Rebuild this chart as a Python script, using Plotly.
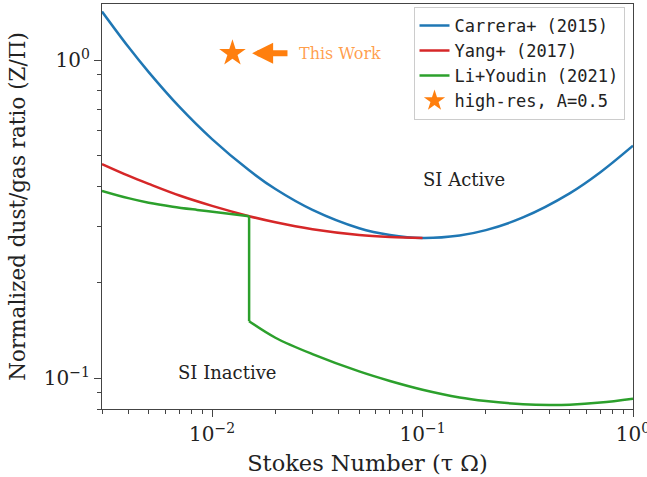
import numpy as np
import plotly.graph_objects as go

# Critical normalized dust-to-gas ratio vs Stokes number
tau_carrera = [0.003, 0.004, 0.005, 0.007, 0.01, 0.015, 0.02, 0.03, 0.05, 0.07,
               0.1, 0.15, 0.2, 0.3, 0.5, 0.7, 1.0]
z_carrera = [1.42, 1.10, 0.916, 0.712, 0.564, 0.450, 0.393, 0.338, 0.296, 0.282,
             0.276, 0.281, 0.292, 0.320, 0.381, 0.444, 0.538]

tau_yang = [0.003, 0.004, 0.005, 0.007, 0.01, 0.015, 0.02, 0.03, 0.05, 0.07, 0.1]
z_yang = [0.471, 0.433, 0.408, 0.375, 0.348, 0.323, 0.309, 0.294, 0.282, 0.278, 0.276]

# Li & Youdin (2021): two branches joined by a jump at tau = 0.015
tau_li_low = [0.003, 0.004, 0.005, 0.0065, 0.0085, 0.011, 0.015]
z_li_low = [0.388, 0.368, 0.356, 0.346, 0.338, 0.331, 0.323]
tau_li_jump = [0.015, 0.015]
z_li_jump = [0.323, 0.151]
tau_li_high = [0.015, 0.02, 0.03, 0.05, 0.07, 0.1, 0.15, 0.2, 0.3, 0.4, 0.5, 0.7, 1.0]
z_li_high = [0.151, 0.134, 0.119, 0.105, 0.098, 0.092, 0.087, 0.0848, 0.0828,
             0.0823, 0.0825, 0.0838, 0.0862]

tau_run = [0.0125]
z_run = [1.05]

BLUE, RED, GREEN, ORANGE = "#1f77b4", "#d62728", "#2ca02c", "#ff7f0e"
SERIF = "DejaVu Serif"
LW = 2.5

fig = go.Figure()
fig.add_trace(go.Scatter(x=tau_carrera, y=z_carrera, mode="lines", name="Carrera+ (2015)",
                         line=dict(color=BLUE, width=LW, shape="spline")))
fig.add_trace(go.Scatter(x=tau_yang, y=z_yang, mode="lines", name="Yang+ (2017)",
                         line=dict(color=RED, width=LW, shape="spline")))
fig.add_trace(go.Scatter(x=tau_li_low, y=z_li_low, mode="lines", name="Li+Youdin (2021)",
                         legendgroup="li", line=dict(color=GREEN, width=LW, shape="spline")))
fig.add_trace(go.Scatter(x=tau_li_jump, y=z_li_jump, mode="lines", showlegend=False,
                         legendgroup="li", line=dict(color=GREEN, width=LW)))
fig.add_trace(go.Scatter(x=tau_li_high, y=z_li_high, mode="lines", showlegend=False,
                         legendgroup="li", line=dict(color=GREEN, width=LW, shape="spline")))
fig.add_trace(go.Scatter(x=tau_run, y=z_run, mode="markers", name="high-res, A=0.5",
                         marker=dict(symbol="star", size=20, color=ORANGE, line=dict(width=0))))

lg = np.log10
# arrow pointing at the marker, plus its label
fig.add_annotation(x=lg(0.0155), y=lg(1.05), ax=lg(0.0232), ay=lg(1.05),
                   xref="x", yref="y", axref="x", ayref="y", text="",
                   showarrow=True, arrowhead=2, arrowsize=0.7, arrowwidth=6,
                   arrowcolor=ORANGE)
fig.add_annotation(x=lg(0.0252), y=lg(1.05), xref="x", yref="y", text="This Work",
                   showarrow=False, xanchor="left", yanchor="middle",
                   font=dict(family=SERIF, size=16, color="rgba(255,127,14,0.75)"))
fig.add_annotation(x=lg(0.158), y=lg(0.42), xref="x", yref="y", text="SI Active",
                   showarrow=False, font=dict(family=SERIF, size=18, color="#222"))
fig.add_annotation(x=lg(0.0119), y=lg(0.1045), xref="x", yref="y", text="SI Inactive",
                   showarrow=False, font=dict(family=SERIF, size=18, color="#222"))

# minor ticks at 2..9 of every decade
minor_x = [m * 10.0 ** e for e in (-3, -2, -1) for m in range(2, 10) if m * 10.0 ** e >= 0.003]
minor_y = [m * 10.0 ** e for e in (-2, -1, 0) for m in range(2, 10)
           if 0.08 <= m * 10.0 ** e <= 1.5]

axis_common = dict(type="log", showgrid=False, zeroline=False, showline=True,
                   linecolor="#444", linewidth=1.2, mirror=True,
                   ticks="outside", ticklen=7, tickwidth=1.2, tickcolor="#444",
                   ticklabeloverflow="allow",
                   tickfont=dict(family=SERIF, size=20, color="#222"))

fig.update_xaxes(range=[lg(0.003), 0], tickvals=[0.01, 0.1, 1],
                 ticktext=["10<sup>−2</sup>", "10<sup>−1</sup>", "10<sup>0</sup>"],
                 minor=dict(tickvals=minor_x, ticks="outside", ticklen=4, tickwidth=1,
                            tickcolor="#444", showgrid=False),
                 title=dict(text="Stokes Number (τ Ω)", standoff=10,
                            font=dict(family=SERIF, size=22.5, color="#222")),
                 **axis_common)
fig.update_yaxes(range=[lg(0.08), lg(1.5)], tickvals=[0.1, 1],
                 ticktext=["10<sup>−1</sup>", "10<sup>0</sup>"],
                 minor=dict(tickvals=minor_y, ticks="outside", ticklen=4, tickwidth=1,
                            tickcolor="#444", showgrid=False),
                 title=dict(text="Normalized dust/gas ratio (Z/Π)", standoff=12,
                            font=dict(family=SERIF, size=21.5, color="#222")),
                 **axis_common)

fig.update_layout(
    width=647, height=477,
    margin=dict(l=102, r=14, t=4, b=68, autoexpand=False),
    plot_bgcolor="white", paper_bgcolor="white",
    legend=dict(x=0.984, y=0.993, xanchor="right", yanchor="top",
                bgcolor="rgba(255,255,255,0.9)", bordercolor="#cccccc", borderwidth=1,
                font=dict(family="DejaVu Sans Mono", size=17, color="#222"),
                itemwidth=30, tracegroupgap=0),
    showlegend=True,
)

fig.write_html("out.html")
